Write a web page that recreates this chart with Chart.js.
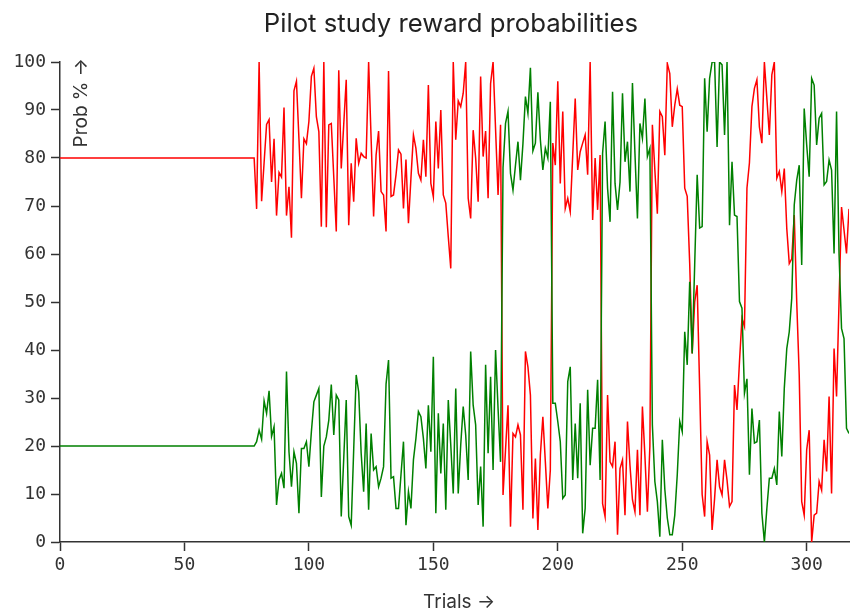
<!DOCTYPE html>
<html>
<head>
<meta charset="utf-8">
<title>Pilot study reward probabilities</title>
<script src="https://cdn.jsdelivr.net/npm/chart.js@4"></script>
<style>
    html, body { margin: 0; padding: 0; background: #fff; }
    #wrap { width: 850px; height: 613px; position: relative; }
</style>
</head>
<body>
<div id="wrap"><canvas id="rewardChart"></canvas></div>
<script>
    // Both options hold a fixed probability up to this trial
    const baselineEnd = 78;
    const redBaseline = 80;
    const greenBaseline = 20;

    // Reward probability (%) per trial, starting at trial 79
    const redProb = [
        69.4, 100, 71, 79, 87, 88, 75, 84, 68, 77,
        76, 90.5, 68, 74, 63.4, 94, 96, 84, 71.6, 84,
        83, 87.6, 97, 98.7, 88.6, 85.5, 65.7, 100, 65.6, 86.9,
        87.2, 76, 64.7, 98.3, 77.8, 87, 96.3, 66, 78.9, 70.9,
        84.1, 78.9, 81, 80.3, 80, 100, 84, 67.8, 80.6, 85.6,
        73, 72.3, 64.7, 98.1, 72, 72.3, 76.5, 81.7, 80.8, 69.5,
        79.7, 66.4, 75.8, 84.8, 82, 76.8, 75.4, 83.8, 76.1, 95.2,
        74.7, 71.9, 87.6, 77.8, 90, 72.3, 70.6, 63.6, 57, 100,
        83.8, 91.9, 90.7, 93.5, 100, 71.6, 67.4, 85.8, 80, 70.9,
        97, 80.3, 85.6, 71.6, 95.5, 100, 86, 72.3, 86.9, 9.8,
        19.2, 28.5, 3.2, 22.6, 21.9, 24.4, 22.3, 6.7, 39.7, 36.5,
        30.6, 4.9, 17.4, 2.5, 18.1, 26.1, 16.7, 7, 15, 83.1,
        78.5, 96, 74.7, 89.7, 69.5, 71.6, 68.8, 80.6, 92.4, 77.5,
        81.3, 83.1, 84.8, 76.5, 100, 67.1, 80, 69.2, 80.6, 8,
        5.3, 30.6, 16.7, 15.7, 20.9, 1.5, 15.3, 17.1, 5.6, 25.1,
        16, 8.8, 6.3, 19.2, 5.6, 28.2, 18, 6.3, 20, 86.9,
        77.5, 68.4, 89.7, 88.6, 80.6, 99.7, 97.6, 86.5, 91, 94.4,
        91, 90.7, 73.7, 72, 58, 39.3, 50, 53.5, 32, 9.9,
        5.3, 20.9, 18.1, 2.5, 9.1, 17.1, 11.5, 9.8, 17.1, 12.9,
        7.4, 8.4, 32.7, 27.5, 37.6, 46.6, 44.9, 73.7, 79, 90.7,
        94.5, 96.3, 86.5, 83.1, 100, 92.4, 84.8, 97.3, 100, 75.8,
        77.2, 73, 77.8, 65.3, 58, 59, 68.1, 50, 34.8, 8.4,
        5.6, 19.2, 23.3, 0, 5.6, 6, 12.6, 10.8, 21.3, 14.7,
        30.3, 10.1, 40.3, 30.3, 50, 69.8, 65, 60.1, 69.4
    ];

    const greenProb = [
        20.9, 23.3, 21.4, 29.4, 26.8, 31.5, 22, 24, 7.7, 13,
        14.3, 11.2, 35.5, 18.8, 11.5, 18.8, 16.4, 6, 19.5, 19.5,
        20.9, 15.7, 23, 29.2, 30.6, 32, 9.4, 20, 21.9, 25.4,
        32.8, 22.3, 30.6, 29.6, 5.3, 17.4, 29.6, 5.3, 3.5, 19.2,
        34.8, 31.3, 18.5, 10.5, 24.7, 6.7, 22.6, 15, 15.7, 11.5,
        13.3, 15.7, 32.9, 37.9, 13.3, 13.6, 7, 7, 14, 20.9,
        3.5, 10.5, 7, 17.1, 21.6, 27.2, 26.1, 21.6, 15.3, 28.5,
        18.8, 38.6, 6, 26.8, 14.3, 24.7, 6.7, 29.6, 20.2, 10.1,
        32, 10.1, 20.2, 28.2, 22.3, 12.9, 39.7, 28.5, 24.4, 7.7,
        15.7, 3.2, 36.9, 18.5, 34.4, 15, 40, 27.8, 16.7, 78,
        87.2, 89.7, 76.8, 73.3, 78.5, 83.4, 75.4, 83, 92.8, 89.3,
        98.8, 81.5, 83.1, 93.7, 83.8, 77.5, 82, 80, 91.7, 28.9,
        28.9, 25.1, 20.9, 9.1, 9.8, 33.4, 36.5, 12.9, 24.7, 13.3,
        28.9, 1.8, 7, 31.7, 16, 23.7, 23.7, 33.8, 12.9, 81,
        87.6, 73.7, 66.7, 93.8, 74.7, 69.2, 75, 93.5, 79.2, 83.4,
        73, 95.6, 81, 67.4, 87.2, 84.1, 92.4, 80.3, 82, 24.4,
        12.6, 8.4, 1.1, 21.3, 11, 5, 1.5, 1.5, 5.6, 14,
        25.1, 23, 43.8, 36.9, 54.2, 39.3, 57.7, 76.5, 65.4, 65.7,
        96.6, 85.5, 96.6, 100, 100, 82.3, 100, 99.4, 84.8, 100,
        66, 79.2, 68.1, 67.8, 50.1, 48.7, 31, 34, 14, 27.8,
        20.6, 20.9, 25.4, 6, 0, 7, 13.3, 13.3, 15.3, 11.9,
        27.2, 17.8, 32, 40.3, 43.8, 50.8, 70.2, 75.4, 78.5, 57.7,
        90.3, 82.7, 76.1, 96.6, 95.2, 82.7, 88.3, 89.3, 74.4, 75.1,
        79.6, 77.5, 60.1, 89.7, 60, 44.5, 42.4, 23.7, 22.6
    ];

    const yTicks = [0, 10, 20, 30, 40, 50, 60, 70, 80, 90, 100];
    const xTicks = [0, 50, 100, 150, 200, 250, 300];

    const chartTitle = 'Pilot study reward probabilities';
    const xLabel = 'Trials \u2192';
    const yLabel = 'Prob % \u2192';

    const axisColor = '#333';
    const textColor = '#222';

    // Build {x, y} points: flat baseline, then the per-trial values
    function buildSeries(baseline, values) {
        const pts = [{ x: 0, y: baseline }, { x: baselineEnd, y: baseline }];
        values.forEach((v, i) => pts.push({ x: baselineEnd + 1 + i, y: v }));
        return pts;
    }

    const lastTrial = baselineEnd + redProb.length;

    // Title and axis labels drawn straight onto the canvas
    const labelsPlugin = {
        id: 'plotLabels',
        afterDraw(chart) {
            const { ctx, chartArea } = chart;
            ctx.save();
            ctx.fillStyle = textColor;

            ctx.font = '25.7px Inter';
            ctx.textAlign = 'center';
            ctx.textBaseline = 'alphabetic';
            ctx.fillText(chartTitle, 451, 32);

            ctx.font = '19px Inter';
            ctx.fillStyle = axisColor;
            ctx.fillText(xLabel, 459, 608);

            ctx.translate(chartArea.left + 27, chartArea.top - 4);
            ctx.rotate(-Math.PI / 2);
            ctx.textAlign = 'right';
            ctx.fillText(yLabel, 0, 0);
            ctx.restore();
        }
    };

    const ctx = document.getElementById('rewardChart').getContext('2d');
    new Chart(ctx, {
        type: 'line',
        data: {
            datasets: [
                {
                    label: 'green',
                    data: buildSeries(greenBaseline, greenProb),
                    borderColor: '#008000',
                    borderWidth: 1.5,
                    pointRadius: 0,
                    tension: 0,
                    fill: false,
                    order: 0
                },
                {
                    label: 'red',
                    data: buildSeries(redBaseline, redProb),
                    borderColor: '#ff0000',
                    borderWidth: 1.5,
                    pointRadius: 0,
                    tension: 0,
                    fill: false,
                    order: 1
                }
            ]
        },
        options: {
            responsive: true,
            maintainAspectRatio: false,
            animation: false,
            layout: { padding: { top: 62, right: 1, left: 0, bottom: 0 } },
            plugins: {
                legend: { display: false },
                tooltip: { enabled: false },
                title: { display: false }
            },
            scales: {
                x: {
                    type: 'linear',
                    min: 0,
                    max: lastTrial,
                    afterFit(scale) { scale.height = 71; },
                    afterBuildTicks(scale) { scale.ticks = xTicks.map(v => ({ value: v })); },
                    border: { display: true, color: axisColor, width: 1.5 },
                    grid: {
                        display: true,
                        drawOnChartArea: false,
                        drawTicks: true,
                        tickLength: 9,
                        tickWidth: 1.5,
                        tickColor: axisColor
                    },
                    ticks: {
                        color: axisColor,
                        padding: 4,
                        maxRotation: 0,
                        font: { family: 'DejaVu Sans Mono', size: 18 }
                    }
                },
                y: {
                    min: 0,
                    max: 100,
                    afterFit(scale) { scale.width = 60; },
                    afterBuildTicks(scale) { scale.ticks = yTicks.map(v => ({ value: v })); },
                    border: { display: true, color: axisColor, width: 1.5 },
                    grid: {
                        display: true,
                        drawOnChartArea: false,
                        drawTicks: true,
                        tickLength: 9,
                        tickWidth: 1.5,
                        tickColor: axisColor
                    },
                    ticks: {
                        color: axisColor,
                        padding: 5,
                        font: { family: 'DejaVu Sans Mono', size: 18 }
                    }
                }
            }
        },
        plugins: [labelsPlugin]
    });
</script>
</body>
</html>
